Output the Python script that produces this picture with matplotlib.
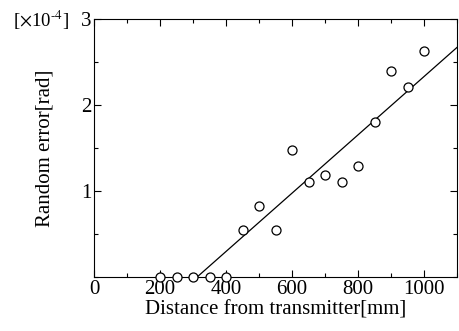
import matplotlib
matplotlib.use("Agg")
import matplotlib.pyplot as plt
from matplotlib.ticker import MultipleLocator

plt.rcParams.update({"font.family": "Liberation Serif", "font.size": 15, "mathtext.fontset": "stix"})

# measured points (error in units of 1e-4 rad)
dist = [200, 250, 300, 350, 400, 450, 500, 550, 600, 650, 700, 750, 800, 850, 900, 950, 1000]
err = [0, 0, 0, 0, 0, 0.55, 0.82, 0.55, 1.48, 1.10, 1.18, 1.10, 1.29, 1.80, 2.40, 2.21, 2.63]
# fitted line endpoints
fit_x = [312, 1100]
fit_y = [0, 2.67]

fig = plt.figure(figsize=(4.59, 3.31), dpi=100)
ax = fig.add_axes([0.205, 0.163, 0.791, 0.780])
ax.plot(fit_x, fit_y, color="black", lw=0.9)
ax.plot(dist, err, "o", mfc="white", mec="black", ms=6.5, mew=0.9, clip_on=False, zorder=3)

ax.set_xlim(0, 1100); ax.set_ylim(0, 3)
ax.xaxis.set_major_locator(MultipleLocator(200)); ax.xaxis.set_minor_locator(MultipleLocator(100))
ax.set_yticks([1, 2, 3]); ax.yaxis.set_minor_locator(MultipleLocator(0.5))
ax.tick_params(which="both", direction="in", top=True, right=True, width=0.8)
ax.tick_params(which="major", length=5, pad=2)
ax.tick_params(which="minor", length=3)
ax.set_xlabel("Distance from transmitter[mm]", labelpad=1)
ax.set_ylabel("Random error[rad]", labelpad=19)
fig.text(0.028, 0.94, r"[$\times$10$^{\text{-}4}$]", fontsize=13.5, va="center")

fig.savefig("out.png", dpi=100)
